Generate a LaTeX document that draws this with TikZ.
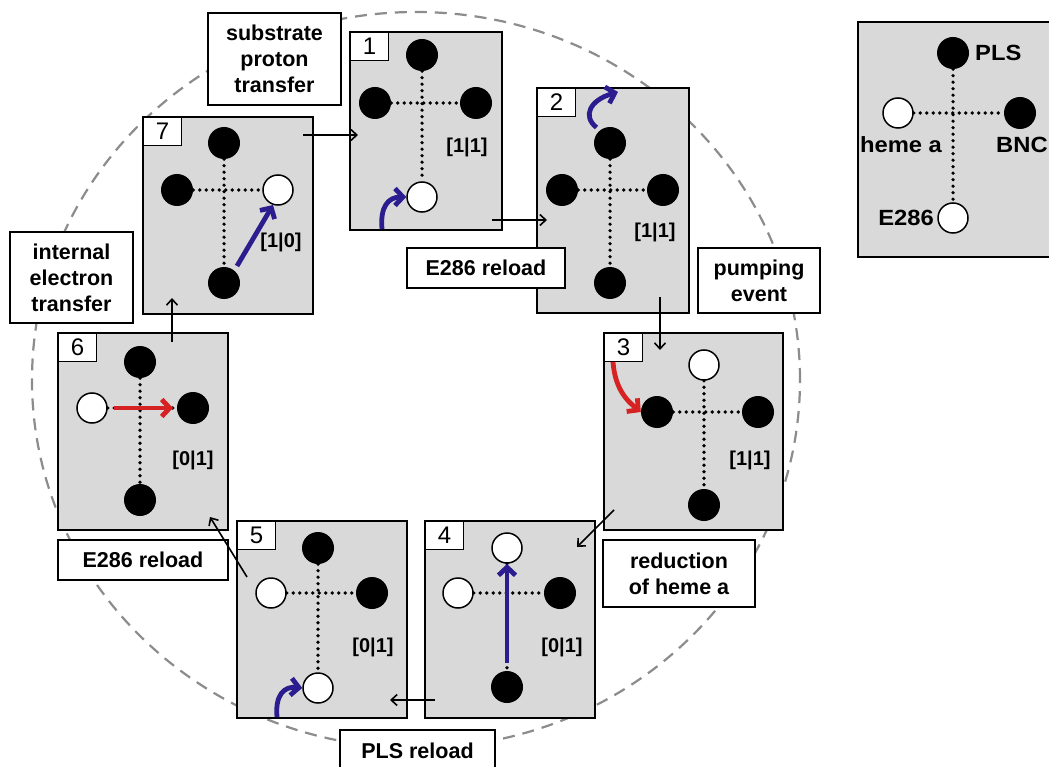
\documentclass[tikz,border=0pt]{standalone}
\usepackage{fontspec}
\setmainfont{Liberation Sans}
\newfontfamily\legfont{Liberation Sans}[FakeStretch=1.08]
\usetikzlibrary{arrows.meta}
\definecolor{panelgray}{RGB}{217,217,217}
\definecolor{dashgray}{RGB}{140,140,140}
\definecolor{arrblue}{RGB}{43,29,143}
\definecolor{arrred}{RGB}{214,34,34}
\begin{document}
\begin{tikzpicture}[x=1pt,y=-1pt,
  panel/.style={draw, line width=1.8pt, fill=panelgray},
  numbox/.style={draw, fill=white, line width=1.2pt, minimum width=38pt, minimum height=28pt, anchor=north west, inner sep=0pt, font=\fontsize{24}{24}\selectfont},
  bd/.style={circle, fill=black, minimum size=32pt, inner sep=0pt},
  wd/.style={circle, draw=black, fill=white, line width=1.5pt, minimum size=30pt, inner sep=0pt},
  dots/.style={line width=3.6pt, dash pattern=on 0pt off 6.5pt, line cap=round},
  lbl/.style={draw, fill=white, line width=1.6pt, inner sep=0pt, font=\bfseries\fontsize{21.5}{26}\selectfont, align=center},
  state/.style={font=\bfseries\fontsize{20}{20}\selectfont, inner sep=0pt},
  legtxt/.style={font=\legfont\bfseries\fontsize{22}{22}\selectfont, inner sep=0pt},
  flow/.style={-{Straight Barb[length=6pt,width=11pt]}, line width=1.6pt},
  bluearr/.style={arrblue, line width=4.8pt, -{Straight Barb[length=8pt,width=17pt]}},
  redarr/.style={arrred, line width=4.8pt, -{Straight Barb[length=8pt,width=17pt]}}
]
\useasboundingbox (0,0) rectangle (1049,767);
\fill[white] (0,0) rectangle (1049,767);

% dashed cycle
\draw[dashgray, line width=2.2pt, dash pattern=on 12pt off 8pt] (416,380) ellipse [x radius=384pt, y radius=368pt];

% ---------- Panel 1 ----------
\draw[panel] (350,32) rectangle (502,230);
\node[numbox] (n1) at (350,32) {1};
\node[bd] (p1t) at (422,55) {};
\node[bd] (p1l) at (375,103) {};
\node[bd] (p1r) at (476,103) {};
\node[wd] (p1b) at (422,197) {};
\draw[dots] (p1l) -- (p1r);
\draw[dots] (p1t) -- (p1b);
\node[state] (s1) at (467,147) {[1|1]};
\coordinate (b1s) at (382,229);
\draw[bluearr] (b1s) .. controls (380,207) and (388,197) .. (p1b.west);

% ---------- Panel 2 ----------
\draw[panel] (537,88) rectangle (689,313);
\node[numbox] (n2) at (537,88) {2};
\node[bd] (p2t) at (610,143) {};
\node[bd] (p2l) at (562,190) {};
\node[bd] (p2r) at (663,190) {};
\node[bd] (p2b) at (610,283) {};
\draw[dots] (p2l) -- (p2r);
\draw[dots] (p2t) -- (p2b);
\node[state] (s2) at (655,232) {[1|1]};
\coordinate (b2e) at (618,92);
\draw[bluearr] (p2t.north west) ++(-2,-4) .. controls (582,116) and (590,100) .. (b2e);

% ---------- Panel 3 ----------
\draw[panel] (604,333) rectangle (783,530);
\node[numbox] (n3) at (604,333) {3};
\node[wd] (p3t) at (704,365) {};
\node[bd] (p3l) at (657,412) {};
\node[bd] (p3r) at (758,412) {};
\node[bd] (p3b) at (704,505) {};
\draw[dots] (p3l) -- (p3r);
\draw[dots] (p3t) -- (p3b);
\node[state] (s3) at (750,460) {[1|1]};
\coordinate (r3s) at (613,362);
\draw[redarr] (r3s) .. controls (615,388) and (626,400) .. (p3l.west);

% ---------- Panel 4 ----------
\draw[panel] (425,521) rectangle (595,718);
\node[numbox] (n4) at (425,521) {4};
\node[wd] (p4t) at (507,548) {};
\node[wd] (p4l) at (458,593) {};
\node[bd] (p4r) at (560,593) {};
\node[bd] (p4b) at (507,687) {};
\draw[dots] (p4l) -- (p4r);
\draw[dots] (p4t) -- (p4b);
\node[state] (s4) at (562,647) {[0|1]};
\coordinate (b4s) at (507,663);
\coordinate (b4e) at (507,564);
\draw[bluearr] (b4s) -- (b4e);

% ---------- Panel 5 ----------
\draw[panel] (237,521) rectangle (407,718);
\node[numbox] (n5) at (237,521) {5};
\node[bd] (p5t) at (318,548) {};
\node[wd] (p5l) at (271,593) {};
\node[bd] (p5r) at (372,593) {};
\node[wd] (p5b) at (318,688) {};
\draw[dots] (p5l) -- (p5r);
\draw[dots] (p5t) -- (p5b);
\node[state] (s5) at (373,647) {[0|1]};
\coordinate (b5s) at (277,717);
\draw[bluearr] (b5s) .. controls (275,695) and (284,686) .. (p5b.west);

% ---------- Panel 6 ----------
\draw[panel] (58,333) rectangle (228,530);
\node[numbox] (n6) at (58,333) {6};
\node[bd] (p6t) at (140,362) {};
\node[wd] (p6l) at (92,408) {};
\node[bd] (p6r) at (193,408) {};
\node[bd] (p6b) at (140,500) {};
\draw[dots] (p6l) -- (p6r);
\draw[dots] (p6t) -- (p6b);
\node[state] (s6) at (193,460) {[0|1]};
\coordinate (r6s) at (114,408);
\coordinate (r6e) at (173,408);
\draw[redarr] (r6s) -- (r6e);

% ---------- Panel 7 ----------
\draw[panel] (143,117) rectangle (313,314);
\node[numbox] (n7) at (143,117) {7};
\node[bd] (p7t) at (224,143) {};
\node[bd] (p7l) at (177,190) {};
\node[wd] (p7r) at (278,190) {};
\node[bd] (p7b) at (224,283) {};
\draw[dots] (p7l) -- (p7r);
\draw[dots] (p7t) -- (p7b);
\node[state] (s7) at (281,242) {[1|0]};
\coordinate (b7s) at (237,266);
\coordinate (b7e) at (273,205);
\draw[bluearr] (b7s) -- (b7e);

% ---------- Legend ----------
\draw[panel] (858,22) rectangle (1060,257);
\node[bd] (lt) at (953,53) {};
\node[wd] (ll) at (898,113) {};
\node[bd] (lr) at (1020,113) {};
\node[wd] (lb) at (953,218) {};
\draw[dots] (ll) -- (lr);
\draw[dots] (lt) -- (lb);
\node[legtxt, anchor=west] (tPLS) at (975,53) {PLS};
\node[legtxt] (theme) at (901,145) {heme a};
\node[legtxt, anchor=west] (tBNC) at (996,145) {BNC};
\node[legtxt, anchor=east] (tE) at (934,218) {E286};

% ---------- step labels ----------
\node[lbl, minimum width=133pt, minimum height=92pt] (L1) at (274.5,59) {substrate\\proton\\transfer};
\node[lbl, minimum width=158pt, minimum height=40pt] (L2) at (486,268) {E286 reload};
\node[lbl, minimum width=122pt, minimum height=65pt] (L3) at (759,280.5) {pumping\\event};
\node[lbl, minimum width=152pt, minimum height=67pt] (L4) at (679,573.5) {reduction\\of heme a};
\node[lbl, minimum width=155pt, minimum height=42pt] (L5) at (417.5,751) {PLS reload};
\node[lbl, minimum width=170pt, minimum height=40pt] (L6) at (143,560) {E286 reload};
\node[lbl, minimum width=123pt, minimum height=91pt] (L7) at (71.5,277.5) {internal\\electron\\transfer};

% ---------- flow arrows ----------
\coordinate (f71s) at (303,135); \coordinate (f71e) at (358,135);
\coordinate (f12s) at (492,220); \coordinate (f12e) at (547,220);
\coordinate (f23s) at (660,297); \coordinate (f23e) at (660,350);
\coordinate (f34s) at (614,510); \coordinate (f34e) at (577,547);
\coordinate (f45s) at (435,700); \coordinate (f45e) at (390,700);
\coordinate (f56s) at (247,577); \coordinate (f56e) at (210,517);
\coordinate (f67s) at (172,342); \coordinate (f67e) at (172,298);
\draw[flow] (f71s) -- (f71e);
\draw[flow] (f12s) -- (f12e);
\draw[flow] (f23s) -- (f23e);
\draw[flow] (f34s) -- (f34e);
\draw[flow] (f45s) -- (f45e);
\draw[flow] (f56s) -- (f56e);
\draw[flow] (f67s) -- (f67e);
\end{tikzpicture}
\end{document}
